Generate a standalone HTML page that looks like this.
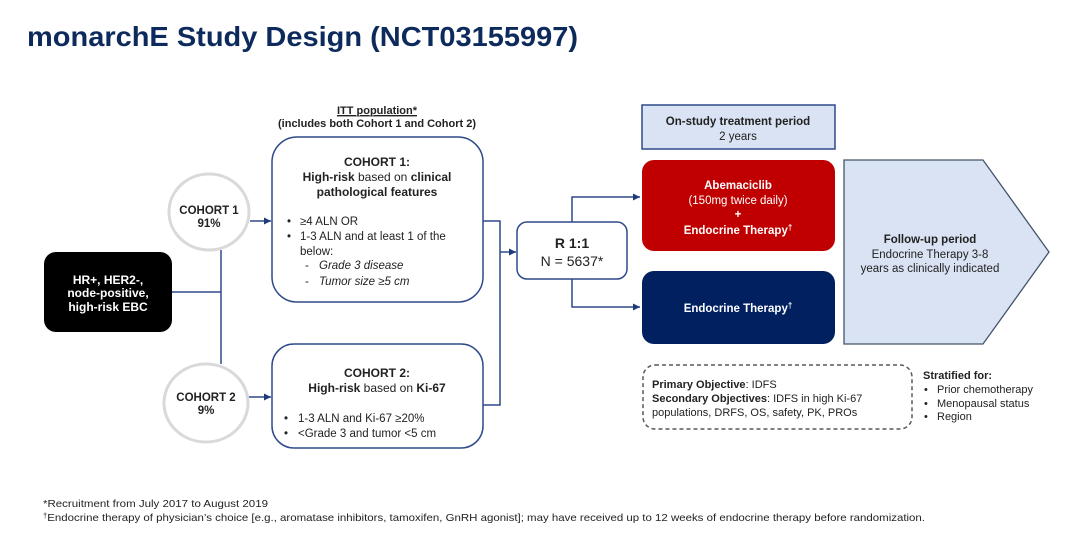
<!DOCTYPE html>
<html><head><meta charset="utf-8">
<style>
html,body{margin:0;padding:0;background:#fff;}
svg{display:block;}
text{font-family:"Liberation Sans",Arial,sans-serif;}
</style></head>
<body>
<svg width="1080" height="550" viewBox="0 0 1080 550" xmlns="http://www.w3.org/2000/svg">
<defs>
<marker id="ah" markerWidth="8" markerHeight="8" refX="7" refY="4" orient="auto" markerUnits="userSpaceOnUse">
<path d="M0,0.5 L7,4 L0,7.5 z" fill="#1f3a78"/>
</marker>
</defs>
<rect width="1080" height="550" fill="#fff"/>

<!-- Title -->
<text x="27" y="46" font-size="28" font-weight="bold" fill="#0d2a5c" textLength="551" lengthAdjust="spacingAndGlyphs">monarchE Study Design (NCT03155997)</text>

<!-- connectors -->
<g stroke="#2e4a8a" stroke-width="1.5" fill="none">
<line x1="172" y1="292" x2="221" y2="292"/>
<line x1="221" y1="250" x2="221" y2="364"/>
<line x1="250" y1="221" x2="271" y2="221" marker-end="url(#ah)"/>
<line x1="248" y1="397" x2="271" y2="397" marker-end="url(#ah)"/>
<polyline points="483,221 500,221 500,405 483,405"/>
<line x1="500" y1="252" x2="516" y2="252" marker-end="url(#ah)"/>
<polyline points="572,222 572,197 640,197" marker-end="url(#ah)"/>
<polyline points="572,279 572,307 640,307" marker-end="url(#ah)"/>
</g>

<!-- Black box -->
<rect x="44" y="252" width="128" height="80" rx="12" fill="#000"/>
<g font-size="12" font-weight="bold" fill="#fff" text-anchor="middle">
<text x="108" y="284">HR+, HER2-,</text>
<text x="108" y="297">node-positive,</text>
<text x="108" y="311">high-risk EBC</text>
</g>

<!-- Circles -->
<ellipse cx="209" cy="212" rx="40" ry="38" fill="#fff" stroke="#d9d9d9" stroke-width="3"/>
<ellipse cx="206" cy="403" rx="42" ry="39" fill="#fff" stroke="#d9d9d9" stroke-width="3"/>
<g font-size="11.5" font-weight="bold" fill="#222" text-anchor="middle">
<text x="209" y="214">COHORT 1</text>
<text x="209" y="227">91%</text>
<text x="206" y="401">COHORT 2</text>
<text x="206" y="414">9%</text>
</g>

<!-- ITT -->
<g font-size="11" font-weight="bold" fill="#222" text-anchor="middle">
<text x="377" y="114" text-decoration="underline">ITT population*</text>
<text x="377" y="127">(includes both Cohort 1 and Cohort 2)</text>
</g>
<line x1="337" y1="116" x2="417" y2="116" stroke="#222" stroke-width="0.8"/>

<!-- Cohort 1 box -->
<rect x="272" y="137" width="211" height="165" rx="25" fill="#fff" stroke="#2e4a8a" stroke-width="1.5"/>
<g font-size="12" fill="#222">
<text x="377" y="166" text-anchor="middle" font-weight="bold">COHORT 1:</text>
<text x="377" y="181" text-anchor="middle"><tspan font-weight="bold">High-risk</tspan> based on <tspan font-weight="bold">clinical</tspan></text>
<text x="377" y="196" text-anchor="middle" font-weight="bold">pathological features</text>
</g>
<g font-size="11.5" fill="#222">
<text x="287" y="225">•</text><text x="300" y="225">≥4 ALN OR</text>
<text x="287" y="240">•</text><text x="300" y="240">1-3 ALN and at least 1 of the</text>
<text x="300" y="255">below:</text>
<text x="305" y="269">-</text><text x="319" y="269" font-style="italic">Grade 3 disease</text>
<text x="305" y="285">-</text><text x="319" y="285" font-style="italic">Tumor size ≥5 cm</text>
</g>

<!-- Cohort 2 box -->
<rect x="272" y="344" width="211" height="104" rx="22" fill="#fff" stroke="#2e4a8a" stroke-width="1.5"/>
<g font-size="12" fill="#222">
<text x="377" y="377" text-anchor="middle" font-weight="bold">COHORT 2:</text>
<text x="377" y="392" text-anchor="middle"><tspan font-weight="bold">High-risk</tspan> based on <tspan font-weight="bold">Ki-67</tspan></text>
</g>
<g font-size="11.5" fill="#222">
<text x="284" y="422">•</text><text x="298" y="422">1-3 ALN and Ki-67 ≥20%</text>
<text x="284" y="437">•</text><text x="298" y="437">&lt;Grade 3 and tumor &lt;5 cm</text>
</g>

<!-- R box -->
<rect x="517" y="222" width="110" height="57" rx="10" fill="#fff" stroke="#2e4a8a" stroke-width="1.5"/>
<text x="572" y="248" font-size="14" font-weight="bold" fill="#222" text-anchor="middle">R 1:1</text>
<text x="572" y="266" font-size="14" fill="#222" text-anchor="middle">N = 5637*</text>

<!-- On-study box -->
<rect x="642" y="105" width="193" height="44" fill="#dae3f3" stroke="#2e4a8a" stroke-width="1.5"/>
<text x="738" y="125" font-size="11.5" font-weight="bold" fill="#222" text-anchor="middle">On-study treatment period</text>
<text x="738" y="140" font-size="11.5" fill="#222" text-anchor="middle">2 years</text>

<!-- Red box -->
<rect x="642" y="160" width="193" height="91" rx="12" fill="#c00000"/>
<g font-size="11.5" fill="#fff" text-anchor="middle">
<text x="738" y="189" font-weight="bold">Abemaciclib</text>
<text x="738" y="204">(150mg twice daily)</text>
<text x="738" y="218" font-weight="bold">+</text>
<text x="738" y="234" font-weight="bold">Endocrine Therapy<tspan font-size="8" dy="-4">†</tspan></text>
</g>

<!-- Navy box -->
<rect x="642" y="271" width="193" height="73" rx="12" fill="#002060"/>
<text x="738" y="312" font-size="11.5" font-weight="bold" fill="#fff" text-anchor="middle">Endocrine Therapy<tspan font-size="8" dy="-4">†</tspan></text>

<!-- Follow-up pentagon -->
<polygon points="844,160 983,160 1049,252 983,344 844,344" fill="#dae3f3" stroke="#44546a" stroke-width="1.3"/>
<g font-size="11.5" fill="#222" text-anchor="middle">
<text x="930" y="243" font-weight="bold">Follow-up period</text>
<text x="930" y="258">Endocrine Therapy 3-8</text>
<text x="930" y="272">years as clinically indicated</text>
</g>

<!-- Dashed box -->
<rect x="643" y="365" width="269" height="64" rx="12" fill="#fff" stroke="#595959" stroke-width="1.5" stroke-dasharray="4,3"/>
<g font-size="11" fill="#222">
<text x="652" y="388"><tspan font-weight="bold">Primary Objective</tspan>: IDFS</text>
<text x="652" y="402"><tspan font-weight="bold">Secondary Objectives</tspan>: IDFS in high Ki-67</text>
<text x="652" y="416">populations, DRFS, OS, safety, PK, PROs</text>
</g>

<!-- Stratified -->
<g font-size="11" fill="#222">
<text x="923" y="379" font-weight="bold">Stratified for:</text>
<text x="924" y="393">•</text><text x="937" y="393">Prior chemotherapy</text>
<text x="924" y="407">•</text><text x="937" y="407">Menopausal status</text>
<text x="924" y="420">•</text><text x="937" y="420">Region</text>
</g>

<!-- Footnotes -->
<g font-size="10.5" fill="#222">
<text x="43" y="507" textLength="225" lengthAdjust="spacingAndGlyphs">*Recruitment from July 2017 to August 2019</text>
<text x="43" y="521" textLength="882" lengthAdjust="spacingAndGlyphs"><tspan font-size="7" dy="-3">†</tspan><tspan dy="3">Endocrine therapy of physician’s choice [e.g., aromatase inhibitors, tamoxifen, GnRH agonist]; may have received up to 12 weeks of endocrine therapy before randomization.</tspan></text>
</g>
</svg>
</body></html>
